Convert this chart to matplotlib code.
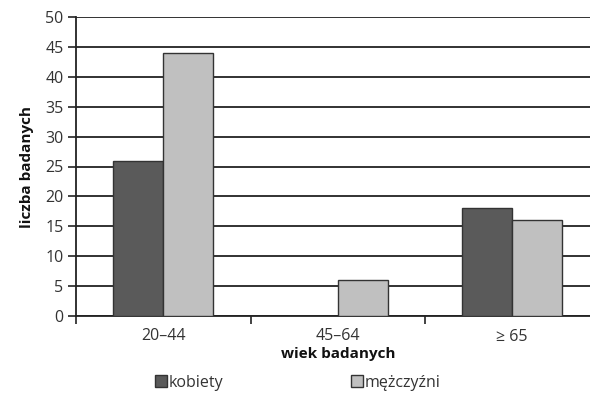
import numpy as np
import matplotlib.pyplot as plt
from matplotlib.patches import Patch

plt.rcParams['font.family'] = ['Open Sans', 'DejaVu Sans']

age_groups = ['20–44', '45–64', '≥ 65']
women = [26, 0, 18]
men = [44, 6, 16]
y_ticks = list(range(0, 51, 5))

dark = '#5a5a5a'
light = '#c0c0c0'
text_col = '#333333'

fig = plt.figure(figsize=(5.9, 4.0), dpi=100)
ax = fig.add_axes([0.129, 0.21, 0.887, 0.7475])

x = np.arange(len(age_groups))
w = 0.287
ax.bar(x - w / 2, women, w, color=dark, edgecolor='#333333', linewidth=1.0, zorder=3)
ax.bar(x + w / 2, men, w, color=light, edgecolor='#333333', linewidth=1.0, zorder=3)

ax.set_xlim(-0.5, len(age_groups) - 0.5)
ax.set_ylim(0, 50)
ax.set_yticks(y_ticks)
ax.yaxis.grid(True, color='#222222', linewidth=1.3, zorder=0)

ax.set_xticks(x)
ax.set_xticklabels(age_groups)
ax.set_xticks(np.arange(len(age_groups) + 1) - 0.5, minor=True)
ax.tick_params(axis='x', which='major', length=0, pad=9, labelsize=11.5, labelcolor=text_col)
ax.tick_params(axis='x', which='minor', length=6, width=1.2, color='#222222', direction='out')
ax.tick_params(axis='y', length=6, width=1.2, color='#222222', labelsize=11.5, labelcolor=text_col, pad=3)

for side in ['top', 'right']:
    ax.spines[side].set_visible(False)
ax.spines['left'].set_linewidth(1.3)
ax.spines['left'].set_color('#222222')
ax.spines['bottom'].set_linewidth(1.3)
ax.spines['bottom'].set_color('#222222')

ax.set_xlabel('wiek badanych', fontsize=11, fontweight='bold', color='#111111', labelpad=2)
ax.set_ylabel('liczba badanych', fontsize=11, fontweight='bold', color='#111111', labelpad=8)

handles = [Patch(facecolor=dark, edgecolor='#333333', label='kobiety'),
           Patch(facecolor=light, edgecolor='#333333', label='mężczyźni')]
fig.legend(handles=handles, loc='center', bbox_to_anchor=(0.505, 0.043), ncol=2,
           frameon=False, fontsize=11.5, handlelength=0.75, handleheight=0.75,
           handletextpad=0.1, columnspacing=8, labelcolor=text_col)

fig.savefig('out.png', dpi=100)
